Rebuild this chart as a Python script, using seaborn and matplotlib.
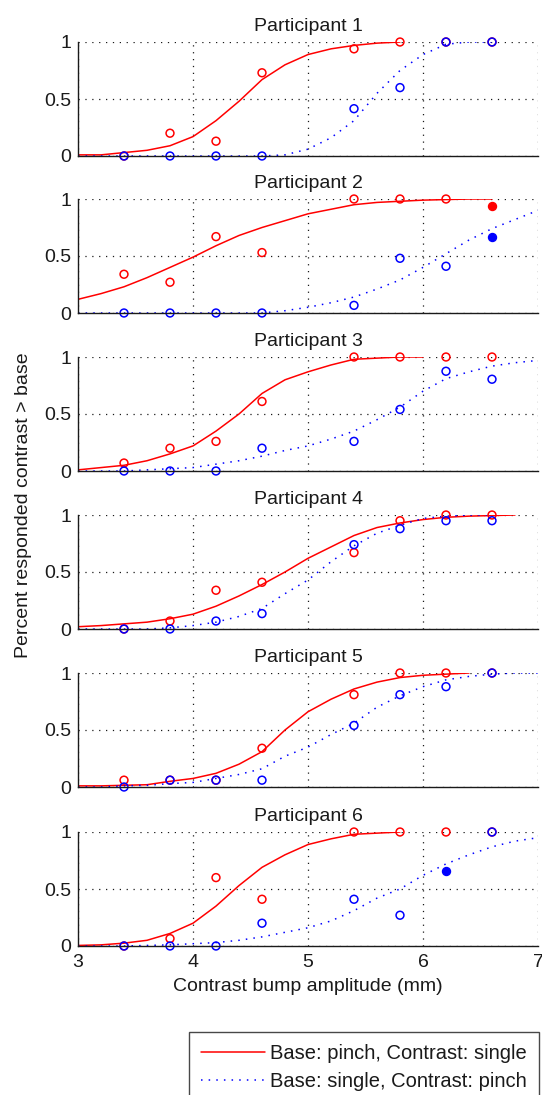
import numpy as np
import pandas as pd
import matplotlib
matplotlib.use("Agg")
import matplotlib.pyplot as plt
from matplotlib.lines import Line2D
import seaborn as sns

# data
participants = [1, 2, 3, 4, 5, 6]
pts_x = [3.4, 3.8, 4.2, 4.6, 5.4, 5.8, 6.2, 6.6]

pinch_pts = [
    [0.00, 0.20, 0.13, 0.73, 0.94, 1.00, 1.00, 1.00],
    [0.34, 0.27, 0.67, 0.53, 1.00, 1.00, 1.00, 0.935],
    [0.07, 0.20, 0.26, 0.61, 1.00, 1.00, 1.00, 1.00],
    [0.00, 0.07, 0.34, 0.41, 0.67, 0.95, 1.00, 1.00],
    [0.06, 0.06, 0.06, 0.34, 0.81, 1.00, 1.00, 1.00],
    [0.00, 0.065, 0.60, 0.41, 1.00, 1.00, 1.00, 1.00],
]
single_pts = [
    [0.00, 0.00, 0.00, 0.00, 0.415, 0.60, 1.00, 1.00],
    [0.00, 0.00, 0.00, 0.00, 0.067, 0.48, 0.41, 0.665],
    [0.00, 0.00, 0.00, 0.20, 0.26, 0.54, 0.875, 0.805],
    [0.00, 0.00, 0.07, 0.135, 0.74, 0.88, 0.95, 0.95],
    [0.00, 0.06, 0.06, 0.06, 0.54, 0.81, 0.88, 1.00],
    [0.00, 0.00, 0.00, 0.20, 0.41, 0.27, 0.66, 1.00],
]
# filled markers: (participant, series, x)
filled_pts = [(2, "pinch", 6.6), (2, "single", 6.6), (6, "single", 6.2)]

N = np.nan
curve_x = [3.0, 3.2, 3.4, 3.6, 3.8, 4.0, 4.2, 4.4, 4.6, 4.8, 5.0,
           5.2, 5.4, 5.6, 5.8, 6.0, 6.2, 6.4, 6.6, 6.8, 7.0]
pinch_fit = [
    [0.01, 0.01, 0.03, 0.05, 0.09, 0.17, 0.31, 0.48, 0.67, 0.80, 0.89, 0.94, 0.97, 0.99, 1.0, N, N, N, N, N, N],
    [0.12, 0.17, 0.23, 0.31, 0.40, 0.49, 0.59, 0.68, 0.75, 0.81, 0.87, 0.91, 0.95, 0.97, 0.98, 0.99, 0.995, 1.0, 1.0, N, N],
    [0.01, 0.03, 0.05, 0.09, 0.15, 0.22, 0.35, 0.50, 0.68, 0.80, 0.87, 0.93, 0.98, 0.99, 1.0, 1.0, N, N, N, N, N],
    [0.02, 0.03, 0.045, 0.06, 0.09, 0.13, 0.20, 0.29, 0.39, 0.50, 0.62, 0.72, 0.82, 0.89, 0.93, 0.96, 0.98, 0.99, 0.995, 1.0, N],
    [0.01, 0.01, 0.015, 0.02, 0.05, 0.075, 0.12, 0.20, 0.31, 0.50, 0.66, 0.77, 0.86, 0.92, 0.96, 0.98, 0.99, 1.0, N, N, N],
    [0.005, 0.01, 0.025, 0.05, 0.11, 0.20, 0.35, 0.53, 0.69, 0.80, 0.89, 0.94, 0.98, 0.99, 1.0, N, N, N, N, N, N],
]
single_fit = [
    [0, 0, 0, 0, 0, 0, 0, 0, 0, 0.01, 0.06, 0.16, 0.31, 0.55, 0.75, 0.89, 0.98, 1.0, 1.0, N, N],
    [0, 0, 0, 0, 0, 0, 0, 0, 0, 0.02, 0.05, 0.09, 0.14, 0.21, 0.29, 0.40, 0.52, 0.64, 0.74, 0.82, 0.90],
    [0, 0, 0, 0.01, 0.02, 0.03, 0.06, 0.09, 0.13, 0.18, 0.22, 0.28, 0.35, 0.45, 0.56, 0.70, 0.81, 0.87, 0.92, 0.95, 0.97],
    [0, 0, 0, 0, 0.01, 0.03, 0.06, 0.11, 0.18, 0.31, 0.43, 0.59, 0.73, 0.84, 0.91, 0.97, 0.99, 1.0, 1.0, N, N],
    [0, 0, 0.01, 0.015, 0.03, 0.04, 0.075, 0.11, 0.16, 0.27, 0.35, 0.46, 0.56, 0.70, 0.80, 0.88, 0.94, 0.97, 0.99, 1.0, 1.0],
    [0, 0, 0, 0.005, 0.01, 0.02, 0.03, 0.05, 0.08, 0.12, 0.16, 0.22, 0.31, 0.42, 0.50, 0.62, 0.72, 0.80, 0.87, 0.92, 0.95],
]

x_ticks = [3, 4, 5, 6, 7]
y_ticks = [0, 0.5, 1]
y_ticklabels = ["0", "0.5", "1"]
labels = {"pinch": "Base: pinch, Contrast: single",
          "single": "Base: single, Contrast: pinch"}
colors = {"pinch": "#ff0000", "single": "#0000ff"}
styles = {"pinch": "-", "single": (0, (1, 4))}

sns.set_theme(style="white")
plt.rcParams["font.family"] = ["Liberation Sans", "DejaVu Sans"]
FS = 14

fig = plt.figure(figsize=(5.42, 10.95), dpi=100)
W, H = 542, 1095
left, right = 78, 538
tops = [42, 199, 357, 515, 673, 832]
ax_h = 114

for i, p in enumerate(participants):
    ax = fig.add_axes([left / W, 1 - (tops[i] + ax_h) / H, (right - left) / W, ax_h / H])

    for key, fits in [("pinch", pinch_fit), ("single", single_fit)]:
        cdf = pd.DataFrame({"x": curve_x, "y": fits[i]}).dropna()
        sns.lineplot(data=cdf, x="x", y="y", color=colors[key], linestyle=styles[key],
                     linewidth=1.1, ax=ax, zorder=3)

    for key, pts in [("pinch", pinch_pts), ("single", single_pts)]:
        pdf = pd.DataFrame({"x": pts_x, "y": pts[i]})
        pdf["filled"] = [(p, key, xx) in filled_pts for xx in pts_x]
        for is_filled, sub in pdf.groupby("filled"):
            sns.scatterplot(data=sub, x="x", y="y", marker="o", s=32,
                            color=colors[key], edgecolor=colors[key],
                            facecolor=colors[key] if is_filled else "none",
                            linewidth=1.1, ax=ax, zorder=4, clip_on=False)

    ax.set_xlim(3, 7)
    ax.set_ylim(0, 1)
    ax.set_xticks(x_ticks)
    ax.set_yticks(y_ticks)
    ax.set_yticklabels(y_ticklabels)
    ax.grid(True, color="k", linestyle=(0, (1, 4.5)), linewidth=0.9)
    ax.set_axisbelow(True)
    for s in ["top", "right"]:
        ax.spines[s].set_visible(False)
    for s in ["left", "bottom"]:
        ax.spines[s].set_color("k")
        ax.spines[s].set_linewidth(1.0)
        ax.spines[s].set_zorder(5)
    ax.tick_params(direction="in", length=4, width=0.8, color="k",
                   labelsize=FS, labelcolor="k", pad=5)
    ax.tick_params(axis="x", pad=6)
    ax.set_ylabel("")
    ax.set_title(f"Participant {p}", fontsize=FS, pad=8, color="k")
    if i < len(participants) - 1:
        ax.set_xticklabels([])
        ax.set_xlabel("")
    else:
        ax.set_xlabel("Contrast bump amplitude (mm)", fontsize=FS, labelpad=5, color="k")

fig.text(24 / W, 1 - 505 / H, "Percent responded contrast > base", rotation=90,
         ha="center", va="center", fontsize=FS, color="k")

handles = [Line2D([], [], color=colors[k], linestyle=styles[k], linewidth=1.1) for k in ["pinch", "single"]]
leg = fig.legend(handles, [labels["pinch"], labels["single"]],
                 loc="upper right", bbox_to_anchor=(539 / W, 1 - 1032 / H),
                 fontsize=14.5, frameon=True, fancybox=False, shadow=False,
                 handlelength=3.2, handletextpad=0.25, labelspacing=0.45,
                 borderpad=0.6, borderaxespad=0)
leg.get_frame().set_edgecolor("k")
leg.get_frame().set_linewidth(1.0)
for t in leg.get_texts():
    t.set_color("k")

fig.savefig("out.png", dpi=100)
